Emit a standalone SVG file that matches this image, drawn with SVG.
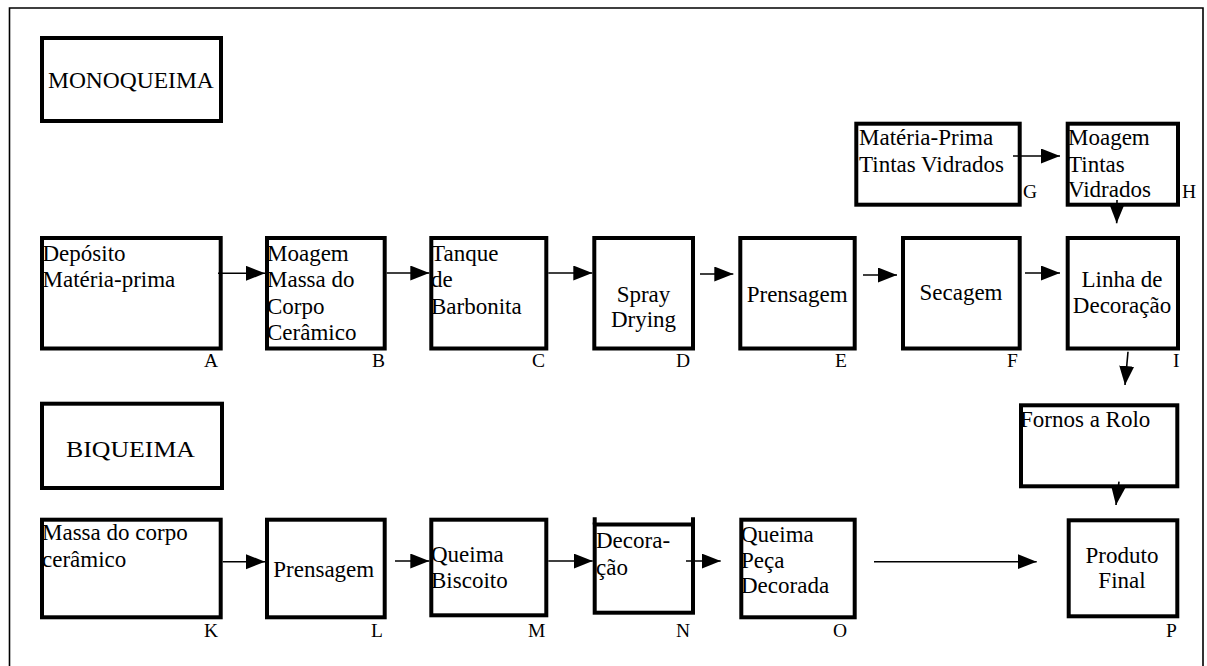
<svg xmlns="http://www.w3.org/2000/svg" width="1207" height="666" viewBox="0 0 1207 666">
  <style>
    .box { fill: #fff; stroke: #000; stroke-width: 4; }
    .frame { fill: none; stroke: #000; stroke-width: 1.6; }
    .edge { fill: none; stroke: #000; stroke-width: 1.6; marker-end: url(#arrow); }
    .c { text-anchor: middle; }
  </style>
  <defs>
    <marker id="arrow" markerUnits="userSpaceOnUse" markerWidth="20" markerHeight="16" refX="19" refY="7.5" orient="auto">
      <path d="M0,0 L19,7.5 L0,15 z" fill="#000"/>
    </marker>
  </defs>

  <rect width="1207" height="666" fill="#fff"/>
  <!-- page frame (open at the bottom) -->
  <path class="frame" d="M9.5,666 V8 H1203 V666"/>

  <!-- section headers -->
  <g font-family="Liberation Serif, serif" font-size="23.5">
    <g id="monoqueima">
      <rect class="box" x="42" y="38" width="179" height="83"/>
      <text x="48" y="88">MONOQUEIMA</text>
    </g>
    <g id="biqueima">
      <rect class="box" x="42" y="403.7" width="180" height="84.3"/>
      <text x="66" y="457.3" textLength="129" lengthAdjust="spacingAndGlyphs">BIQUEIMA</text>
    </g>
  </g>

  <!-- process steps: box text 23px, step letters 19.5px -->
  <g font-family="Liberation Serif, serif" font-size="23">
    <g id="A">
      <rect class="box" x="42" y="238" width="178.7" height="110.5"/>
      <text x="42.5" y="260.5">Depósito</text>
      <text x="42.5" y="287">Matéria-prima</text>
      <text x="204" y="367" font-size="19.5">A</text>
    </g>
    <g id="B">
      <rect class="box" x="267" y="238" width="117.7" height="110.5"/>
      <text x="267" y="260.5">Moagem</text>
      <text x="267" y="287">Massa do</text>
      <text x="267" y="313.5">Corpo</text>
      <text x="267" y="339.5">Cerâmico</text>
      <text x="372" y="367" font-size="19.5">B</text>
    </g>
    <g id="C">
      <rect class="box" x="431.3" y="238" width="115" height="110.5"/>
      <text x="431" y="260.5">Tanque</text>
      <text x="431" y="287">de</text>
      <text x="431" y="313.5">Barbonita</text>
      <text x="532" y="367" font-size="19.5">C</text>
    </g>
    <g id="D">
      <rect class="box" x="594.3" y="238" width="98.7" height="110.5"/>
      <text class="c" x="643.5" y="301.7">Spray</text>
      <text class="c" x="643.5" y="326.7">Drying</text>
      <text x="676" y="367" font-size="19.5">D</text>
    </g>
    <g id="E">
      <rect class="box" x="740.3" y="238" width="114.4" height="110.5"/>
      <text x="746.7" y="301.7">Prensagem</text>
      <text x="835" y="367" font-size="19.5">E</text>
    </g>
    <g id="F">
      <rect class="box" x="903" y="238" width="116.7" height="110.5"/>
      <text class="c" x="961" y="300">Secagem</text>
      <text x="1007" y="367" font-size="19.5">F</text>
    </g>
    <g id="G">
      <rect class="box" x="856.3" y="123.7" width="163.4" height="81"/>
      <text x="859" y="145">Matéria-Prima</text>
      <text x="859" y="171.7">Tintas Vidrados</text>
      <text x="1023" y="198" font-size="19.5">G</text>
    </g>
    <g id="H">
      <rect class="box" x="1067.7" y="123.7" width="110.3" height="81"/>
      <text x="1068" y="145">Moagem</text>
      <text x="1068" y="171.7">Tintas</text>
      <text x="1068" y="196.7">Vidrados</text>
      <text x="1182" y="198" font-size="19.5">H</text>
    </g>
    <g id="I">
      <rect class="box" x="1067.7" y="238" width="110.3" height="110.5"/>
      <text class="c" x="1122" y="286.7">Linha de</text>
      <text class="c" x="1122" y="312.7">Decoração</text>
      <text x="1173" y="367" font-size="19.5">I</text>
    </g>
    <g id="fornos">
      <rect class="box" x="1021" y="405.3" width="156.3" height="81"/>
      <text x="1020" y="427">Fornos a Rolo</text>
    </g>
    <g id="P">
      <rect class="box" x="1068.7" y="520.3" width="108.6" height="96"/>
      <text class="c" x="1122" y="562.7">Produto</text>
      <text class="c" x="1122" y="588.3">Final</text>
      <text x="1166" y="636.7" font-size="19.5">P</text>
    </g>

    <g id="K">
      <rect class="box" x="42" y="519.7" width="178.7" height="97.6"/>
      <text x="42" y="540">Massa do corpo</text>
      <text x="42" y="567.3">cerâmico</text>
      <text x="204" y="636.7" font-size="19.5">K</text>
    </g>
    <g id="L">
      <rect class="box" x="267" y="519.7" width="117.7" height="97.6"/>
      <text x="273.3" y="576.7">Prensagem</text>
      <text x="371" y="636.7" font-size="19.5">L</text>
    </g>
    <g id="M">
      <rect class="box" x="431.3" y="519.7" width="115" height="95.6"/>
      <text x="431" y="561.7">Queima</text>
      <text x="431" y="588.3">Biscoito</text>
      <text x="528" y="636.7" font-size="19.5">M</text>
    </g>
    <g id="N">
      <rect class="box" x="594.7" y="524.5" width="98.3" height="88.2"/>
      <path d="M594.7,517.3 V524.5 M693,517.3 V524.5" stroke="#000" stroke-width="4" fill="none"/>
      <text x="596" y="548.3">Decora-</text>
      <text x="596" y="575">ção</text>
      <text x="676" y="636.7" font-size="19.5">N</text>
    </g>
    <g id="O">
      <rect class="box" x="741.3" y="519.7" width="113.4" height="97.6"/>
      <text x="741" y="541.7">Queima</text>
      <text x="741" y="568.3">Peça</text>
      <text x="741" y="593.3">Decorada</text>
      <text x="833" y="636.7" font-size="19.5">O</text>
    </g>
  </g>

  <!-- connectors -->
  <g id="connectors">
    <line class="edge" x1="218" y1="273.3" x2="265" y2="273.3"/>
    <line class="edge" x1="386.7" y1="273" x2="429.3" y2="273"/>
    <line class="edge" x1="548.3" y1="273" x2="592.3" y2="273"/>
    <line class="edge" x1="700" y1="274" x2="733.3" y2="274"/>
    <line class="edge" x1="863" y1="275" x2="897" y2="275"/>
    <line class="edge" x1="1025" y1="273" x2="1060" y2="273"/>
    <line class="edge" x1="1013" y1="156" x2="1060" y2="156"/>
    <line class="edge" x1="1117" y1="200" x2="1116.7" y2="223.3"/>
    <line class="edge" x1="1128" y1="351.7" x2="1125" y2="385"/>
    <line class="edge" x1="1119" y1="481.7" x2="1116" y2="505"/>
    <line class="edge" x1="222.7" y1="561.7" x2="265" y2="561.7"/>
    <line class="edge" x1="395" y1="561" x2="429.3" y2="561"/>
    <line class="edge" x1="548.3" y1="561" x2="592.7" y2="561"/>
    <line class="edge" x1="686" y1="561" x2="720.7" y2="561"/>
    <line class="edge" x1="874" y1="561.7" x2="1036.7" y2="561.7"/>
  </g>
</svg>
